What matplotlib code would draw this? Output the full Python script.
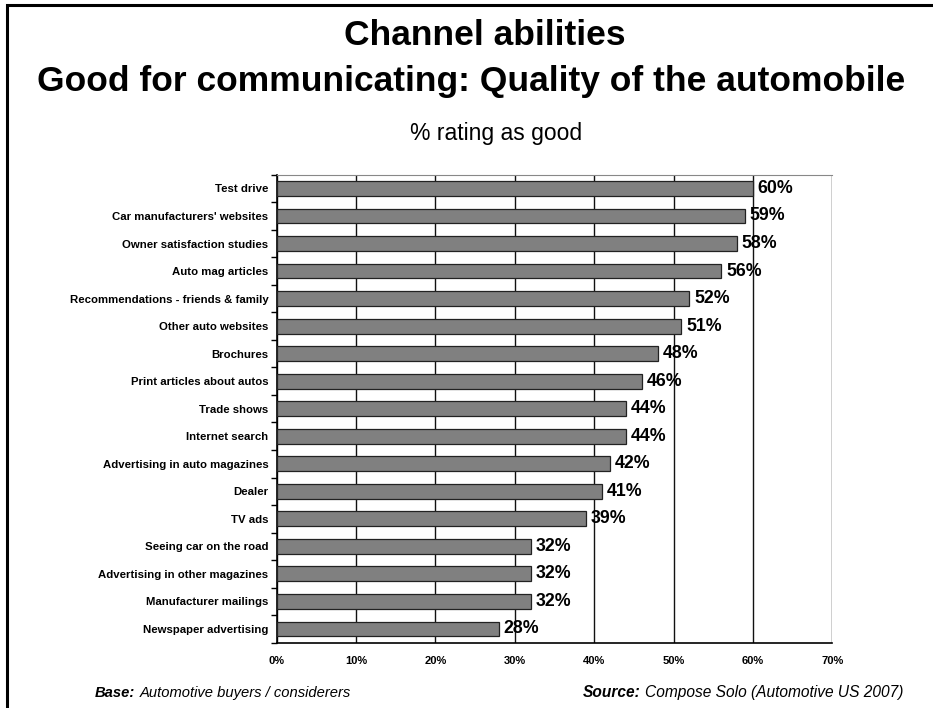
import matplotlib
matplotlib.use("Agg")
import matplotlib.pyplot as plt
from matplotlib.patches import Rectangle
from matplotlib.ticker import FixedLocator, FuncFormatter

plt.rcParams['font.family'] = ['Liberation Sans', 'DejaVu Sans']

categories = [
    "Test drive",
    "Car manufacturers' websites",
    "Owner satisfaction studies",
    "Auto mag articles",
    "Recommendations - friends & family",
    "Other auto websites",
    "Brochures",
    "Print articles about autos",
    "Trade shows",
    "Internet search",
    "Advertising in auto magazines",
    "Dealer",
    "TV ads",
    "Seeing car on the road",
    "Advertising in other magazines",
    "Manufacturer mailings",
    "Newspaper advertising",
]
values = [60, 59, 58, 56, 52, 51, 48, 46, 44, 44, 42, 41, 39, 32, 32, 32, 28]
x_ticks = [0, 10, 20, 30, 40, 50, 60, 70]

W, H = 933, 708
fig = plt.figure(figsize=(W / 100, H / 100), dpi=100)

# page frame (runs off the right and bottom edges)
fig.patches.append(Rectangle((7.5 / W, -0.05), 1.2, 1.05 - 4.5 / H, transform=fig.transFigure,
                             fill=False, edgecolor='black', linewidth=2.2, zorder=0))

left, right, top, bottom = 276.7, 832.3, 174.7, 642.7
ax = fig.add_axes([left / W, 1 - bottom / H, (right - left) / W, (bottom - top) / H])
y = list(range(len(categories)))
ax.barh(y, values, height=0.54, color='#808080', edgecolor='#222222', linewidth=0.9, zorder=3)
for yi, v in zip(y, values):
    ax.text(v + 0.6, yi, f"{v}%", va='center', ha='left', fontsize=12.8, fontweight='bold', zorder=4)

ax.set_xlim(0, 70)
ax.set_ylim(len(categories) - 0.5, -0.5)
ax.set_yticks(y)
ax.set_yticklabels(categories, fontsize=8.2, fontweight='bold')
ax.tick_params(axis='y', which='major', length=0, pad=6)
ax.yaxis.set_minor_locator(FixedLocator([i - 0.5 for i in range(len(categories) + 1)]))
ax.tick_params(axis='y', which='minor', length=4, width=1, direction='out')

ax.set_xticks(x_ticks)
ax.xaxis.set_major_formatter(FuncFormatter(lambda v, p: f"{int(v)}%"))
ax.tick_params(axis='x', length=0, pad=9.5, labelsize=8)
for lbl in ax.get_xticklabels():
    lbl.set_fontweight('bold')

ax.grid(axis='x', color='#111111', linewidth=1.0, zorder=1)
ax.spines['top'].set_color('#888888')
ax.spines['right'].set_visible(False)
for s in ('left', 'bottom'):
    ax.spines[s].set_color('black')
    ax.spines[s].set_linewidth(1.2)

fig.text(485 / W, 1 - 45 / H, "Channel abilities", ha='center', va='baseline',
         fontsize=25.5, fontweight='bold')
fig.text(471 / W, 1 - 91 / H, "Good for communicating: Quality of the automobile", ha='center',
         va='baseline', fontsize=25.5, fontweight='bold')
fig.text(496 / W, 1 - 140 / H, "% rating as good", ha='center', va='baseline', fontsize=16.5)

# footer: bold-italic lead word followed by italic text
fig.canvas.draw()
renderer = fig.canvas.get_renderer()


def footer(x_px, lead, rest, size):
    t = fig.text(x_px / W, 1 - 697 / H, lead, ha='left', va='baseline', fontsize=size,
                 fontweight='bold', style='italic')
    w = t.get_window_extent(renderer=renderer).width
    fig.text((x_px + w + 4) / W, 1 - 697 / H, rest, ha='left', va='baseline', fontsize=size,
             style='italic')


footer(95, "Base:", "Automotive buyers / considerers", 10.6)
footer(583, "Source:", "Compose Solo (Automotive US 2007)", 11.2)

fig.savefig("out.png", dpi=100)
